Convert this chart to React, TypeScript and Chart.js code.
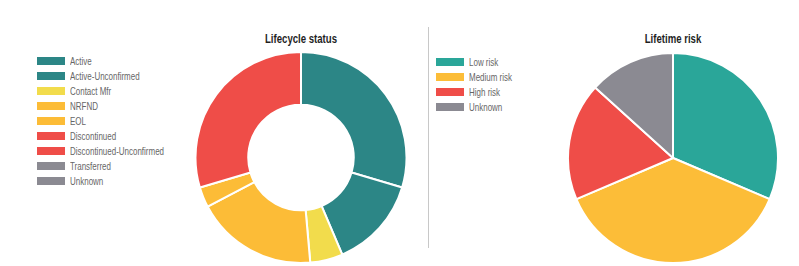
import React, { useEffect, useRef } from "react";
import { Chart, registerables } from "chart.js";

Chart.register(...registerables);

const lifecycleLabels = [
  "Active",
  "Active-Unconfirmed",
  "Contact Mfr",
  "NRFND",
  "EOL",
  "Discontinued",
  "Discontinued-Unconfirmed",
  "Transferred",
  "Unknown",
];
const lifecycleValues = [296, 140, 50, 187, 31, 296, 0, 0, 0];
const lifecycleColors = [
  "#2c8686",
  "#2c8686",
  "#f2dc4c",
  "#fcbc37",
  "#fcbc37",
  "#ef4d48",
  "#ef4d48",
  "#8b8a92",
  "#8b8a92",
];

const riskLabels = ["Low risk", "Medium risk", "High risk", "Unknown"];
const riskValues = [314, 372, 181, 133];
const riskColors = ["#2aa699", "#fcbd38", "#ef4d48", "#8b8a92"];

const FONT = "'Liberation Sans', Arial, sans-serif";

function PieCanvas(props: {
  type: "doughnut" | "pie";
  labels: string[];
  values: number[];
  colors: string[];
  title: string;
  left: number;
  width: number;
  top: number;
}) {
  const ref = useRef<HTMLCanvasElement | null>(null);
  useEffect(() => {
    if (!ref.current) return;
    const chart = new Chart(ref.current, {
      type: props.type,
      data: {
        labels: props.labels,
        datasets: [
          {
            data: props.values,
            backgroundColor: props.colors,
            borderColor: "#ffffff",
            borderWidth: 2,
          },
        ],
      },
      options: {
        animation: false,
        responsive: false,
        cutout: props.type === "doughnut" ? "50%" : 0,
        layout: { padding: { left: 0, right: 0, top: props.top, bottom: 2 } },
        plugins: {
          legend: { display: false },
          tooltip: { enabled: false },
          title: { display: false },
        },
      },
    });
    return () => chart.destroy();
  }, []);
  return (
    <>
      <div
        style={{
          position: "absolute",
          left: props.left,
          width: props.width,
          top: 32,
          textAlign: "center",
          fontFamily: FONT,
          fontWeight: "bold",
          fontSize: 12,
          lineHeight: "14px",
          color: "#1f1f1f",
          transform: "scaleX(0.8)",
          transformOrigin: "center",
        }}
      >
        {props.title}
      </div>
      <canvas
        ref={ref}
        width={props.width}
        height={266}
        style={{ position: "absolute", left: props.left, top: 0, width: props.width, height: 266 }}
      />
    </>
  );
}

function Legend(props: { labels: string[]; colors: string[]; left: number; top: number }) {
  return (
    <div style={{ position: "absolute", left: props.left, top: props.top }}>
      {props.labels.map((l, i) => (
        <div
          key={l}
          style={{ display: "flex", alignItems: "center", height: 14.9, fontFamily: FONT, fontSize: 10.5, color: "#666" }}
        >
          <span style={{ display: "inline-block", width: 28, height: 8, background: props.colors[i], marginRight: 5, flex: "none" }} />
          <span style={{ display: "inline-block", whiteSpace: "nowrap", transform: "scaleX(0.76)", transformOrigin: "left center" }}>{l}</span>
        </div>
      ))}
    </div>
  );
}

export default function App() {
  return (
    <div style={{ position: "absolute", left: 0, top: 0, width: 799, height: 266, background: "#fff", overflow: "hidden" }}>
      <Legend labels={lifecycleLabels} colors={lifecycleColors} left={37} top={54} />
      <PieCanvas
        type="doughnut"
        labels={lifecycleLabels}
        values={lifecycleValues}
        colors={lifecycleColors}
        title="Lifecycle status"
        left={194}
        width={214}
        top={51}
      />
      <div style={{ position: "absolute", left: 428, top: 27, width: 1, height: 221, background: "#c8c8c8" }} />
      <Legend labels={riskLabels} colors={riskColors} left={436} top={55} />
      <PieCanvas
        type="pie"
        labels={riskLabels}
        values={riskValues}
        colors={riskColors}
        title="Lifetime risk"
        left={566}
        width={214}
        top={52}
      />
    </div>
  );
}
